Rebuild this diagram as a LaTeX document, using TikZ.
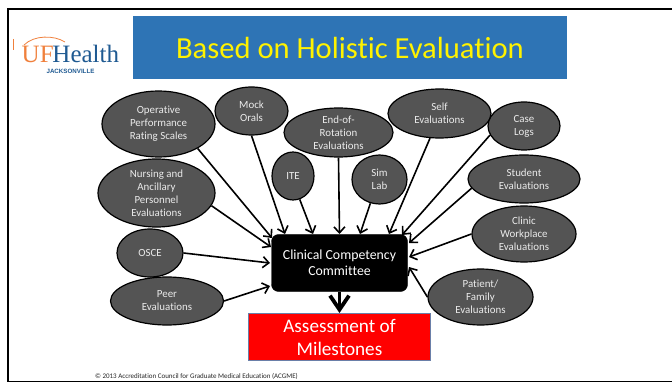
\documentclass[tikz,border=0pt]{standalone}
\usepackage{fontspec}
\setmainfont{Carlito}[Ligatures=NoCommon]
\newfontfamily\logoserif{Liberation Serif}
\newfontfamily\logosans{Liberation Sans}
\usetikzlibrary{arrows.meta,shapes.geometric}
\definecolor{evalgray}{HTML}{545454}
\definecolor{titleblue}{HTML}{2E74B5}
\definecolor{logoorange}{HTML}{F0803C}
\definecolor{logoblue}{HTML}{1F5A92}
\definecolor{redline}{HTML}{6A7FA8}
\tikzset{
  evalnode/.style={ellipse,draw=black,line width=1.2pt,fill=evalgray,text=white!92!black,inner sep=0pt,align=center,
    font=\fontsize{10.9}{13}\selectfont},
  feed/.style={-{Straight Barb[length=6pt,width=11pt,line width=1.6pt]},line width=1.6pt,black},
  result/.style={-{Straight Barb[length=14pt,width=19pt,line width=3.8pt]},line width=3.8pt,black},
}
\newcommand{\evalell}[6]{\node[evalnode,minimum width=#4pt,minimum height=#5pt] (#1) at (#2,#3) {#6};}
\begin{document}
\begin{tikzpicture}[x=1pt,y=-1pt]
\useasboundingbox (0,0) rectangle (672,382);
\fill[white] (0,0) rectangle (672,382);
\begin{scope}
\clip (0,0) rectangle (672,382);
\draw[black,line width=2pt] (672,9) -- (7.5,9) -- (7.5,381.5) -- (672,381.5);
\end{scope}
% logo
\draw[logoorange,line width=0.8pt] (24,45) .. controls (34,35) and (54,35) .. (65,42);
\draw[logoorange,line width=0.6pt] (13.5,39) -- (13.5,50);
\node[anchor=base west,inner sep=0pt,font=\logoserif\fontsize{25}{25}\selectfont] (logotext) at (21.5,62.5)
  {\textcolor{logoorange}{UF}\kern-1.2pt\textcolor{logoblue}{Health}};
\node[anchor=base,inner sep=0pt,text=logoblue,font=\logosans\bfseries\fontsize{6.2}{7}\selectfont] (logosub) at (70.5,73.5) {JACKSONVILLE};
% title
\node[fill=titleblue,minimum width=434pt,minimum height=63pt,inner sep=0pt,text=yellow,font=\fontsize{30.6}{32}\selectfont] (title) at (350,47.5) {Based on Holistic Evaluation};
% ellipses
\evalell{oprs}{158.5}{124}{113}{66}{Operative\\Performance\\Rating Scales}
\evalell{mock}{251.5}{111}{73}{48}{Mock\\Orals}
\evalell{eor}{338.5}{132.5}{109}{49}{End-of-\\Rotation\\Evaluations}
\evalell{ite}{293}{176}{42}{48}{ITE}
\evalell{sim}{379.5}{179.5}{55}{49}{Sim\\Lab}
\evalell{self}{439.5}{113.5}{103}{49}{Self\\Evaluations}
\evalell{case}{524}{126}{72}{48}{Case\\Logs}
\evalell{student}{524}{179}{112}{48}{Student\\Evaluations}
\evalell{clinic}{524}{234}{104}{56}{Clinic\\Workplace\\Evaluations}
\evalell{patient}{480.5}{297}{105}{56}{Patient/\\Family\\Evaluations}
\evalell{nursing}{156.5}{193}{117}{68}{Nursing and\\Ancillary\\Personnel\\Evaluations}
\evalell{osce}{150}{253}{66}{48}{OSCE}
\evalell{peer}{167}{301}{113}{48}{Peer\\Evaluations}
% committee and result
\node[draw=black,fill=black,rounded corners=7pt,minimum width=136pt,minimum height=57pt,inner sep=0pt,text=white,align=center,
  font=\fontsize{13.8}{16}\selectfont] (ccc) at (339.5,263) {Clinical Competency\\Committee};
\node[draw=redline,line width=1pt,fill=red,minimum width=182pt,minimum height=47pt,inner sep=0pt,text=white,align=center,
  font=\fontsize{19.2}{23}\selectfont] (ms) at (339.5,337) {Assessment of\\Milestones};
% arrow targets on the committee box
\coordinate (t1) at (272,238);
\coordinate (t2) at (285,234);
\coordinate (t3) at (313,234);
\coordinate (t4) at (339.5,234);
\coordinate (t5) at (360,234);
\coordinate (t6) at (389,234);
\coordinate (t7) at (402,235);
\coordinate (t8) at (409,243);
\coordinate (t9) at (409,257);
\coordinate (t10) at (409,267);
\coordinate (t11) at (271,247);
\coordinate (t12) at (270,263);
\coordinate (t13) at (270,286);
\draw[feed] (oprs.-32) -- (t1);
\draw[feed] (mock.south) -- (t2);
\draw[feed] (ite.-74) -- (t3);
\draw[feed] (eor.south) -- (t4);
\draw[feed] (sim.-111) -- (t5);
\draw[feed] (self.-111) -- (t6);
\draw[feed] (case.-165) -- (t7);
\draw[feed] (student.-170) -- (t8);
\draw[feed] (clinic.west) -- (t9);
\draw[feed] (patient.west) -- (t10);
\draw[feed] (nursing.-13) -- (t11);
\draw[feed] (osce.east) -- (t12);
\draw[feed] (peer.east) -- (t13);
\draw[result] (ccc.south) -- (ms.north);
% footer
\node[inner sep=0pt,text=black!85,font=\fontsize{7}{8}\selectfont] (foot) at (196.5,376.5) {© 2013 Accreditation Council for Graduate Medical Education (ACGME)};
\end{tikzpicture}
\end{document}
